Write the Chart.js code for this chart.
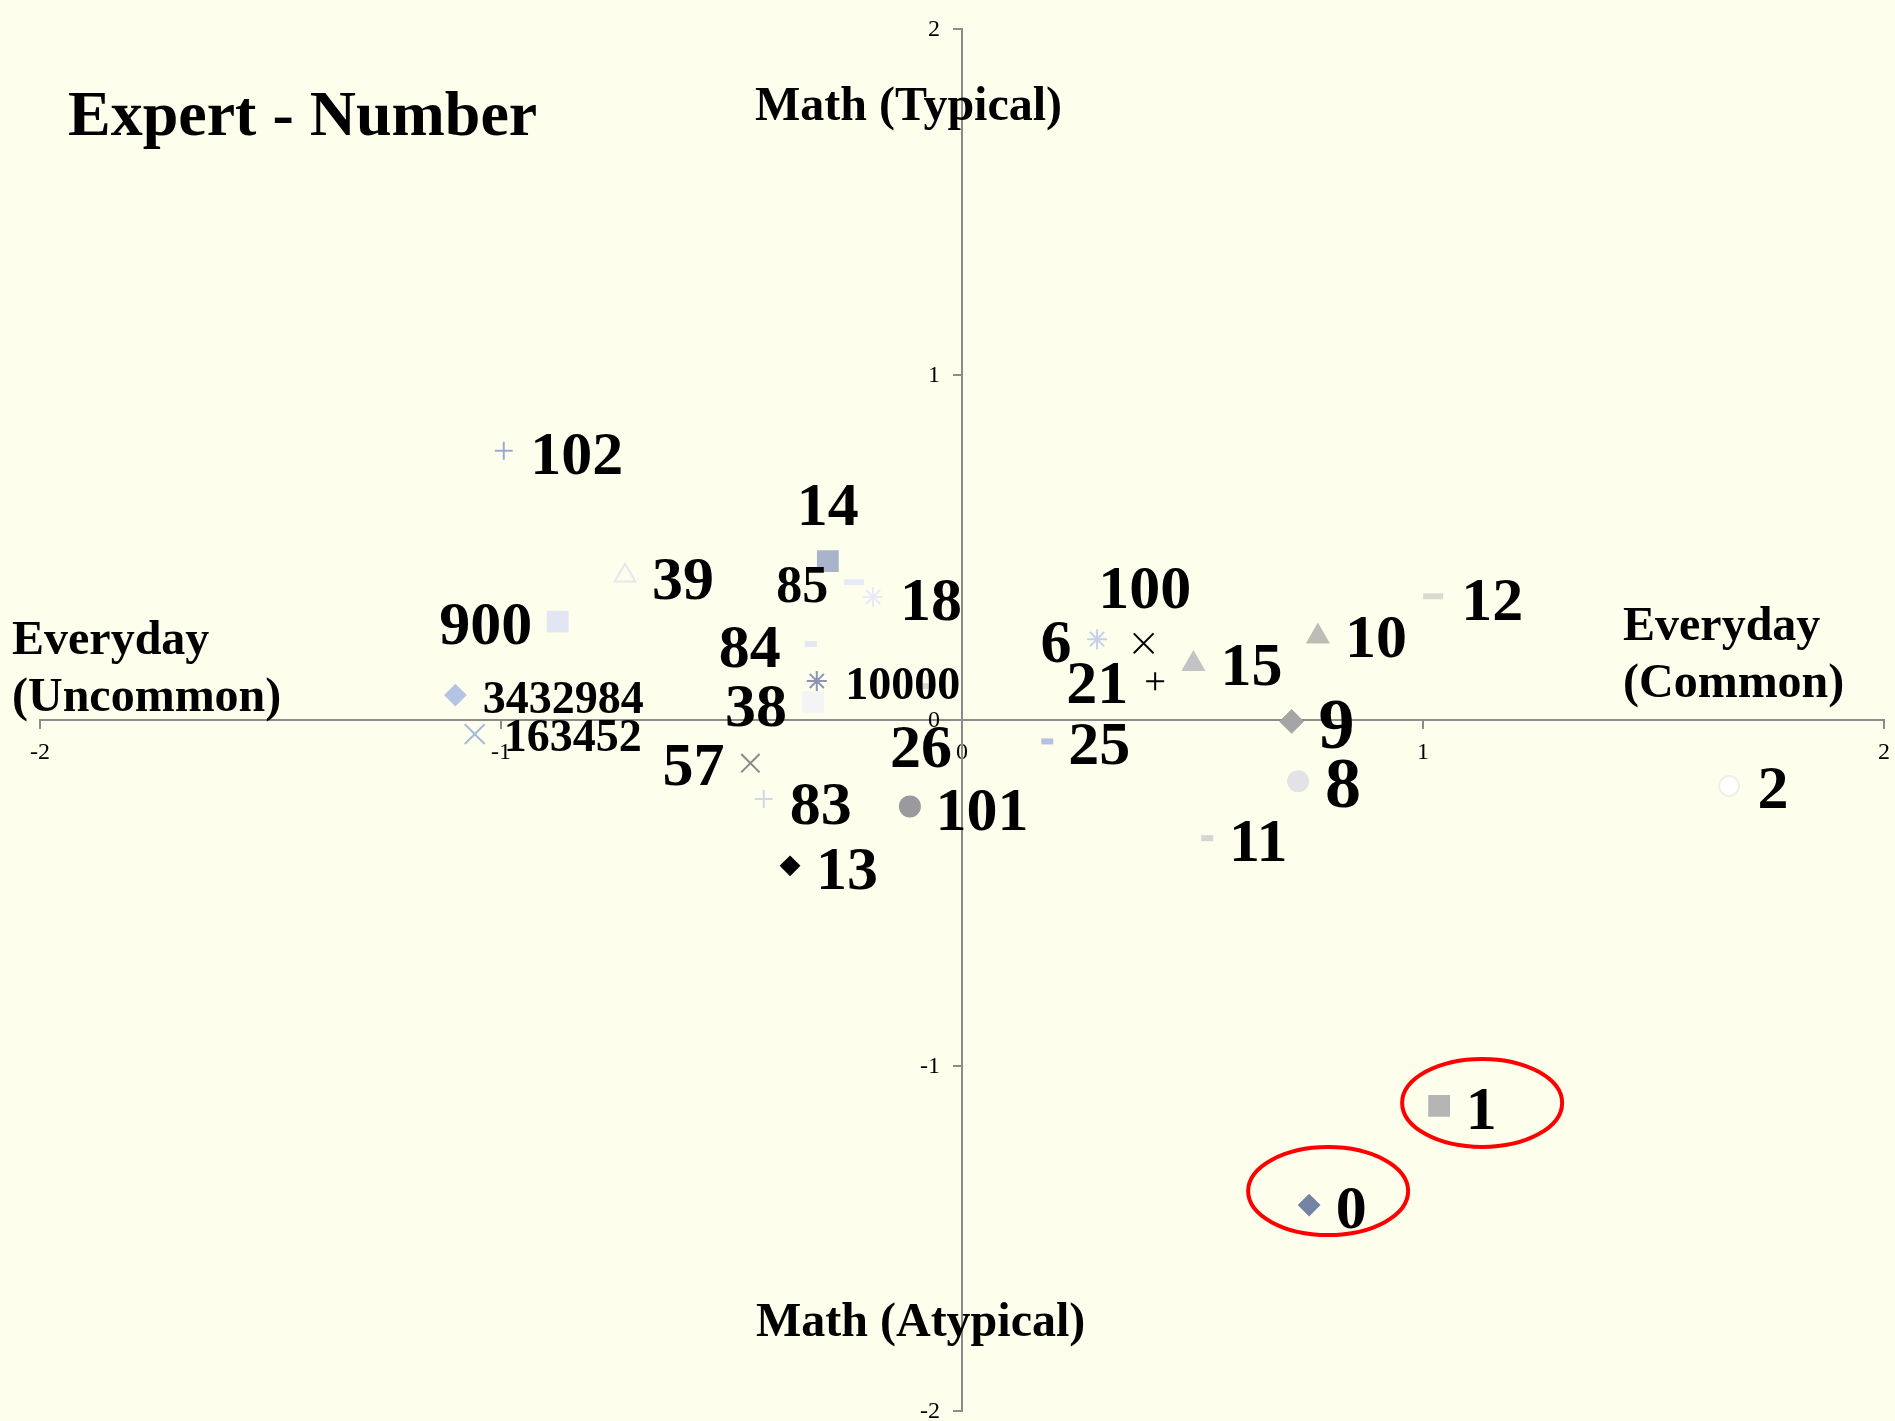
<!DOCTYPE html>
<html>
<head>
<meta charset="utf-8">
<title>Expert - Number</title>
<script src="https://cdn.jsdelivr.net/npm/chart.js@4.4.1/dist/chart.umd.min.js"></script>
<style>
  html, body { margin: 0; padding: 0; background: #fefeec; overflow: hidden; }
</style>
</head>
<body>
<canvas id="chart" width="1895" height="1421"></canvas>
<script>
// numbers as placed by the expert: x = everyday (uncommon -> common), y = math (atypical -> typical)
const names = ['0', '1', '2', '6', '8', '9', '10', '11', '12', '13', '14', '15', '18', '21', '25',
  '26', '38', '39', '57', '83', '84', '85', '100', '101', '102', '900', '10000', '163452', '3432984'];
const xVals = [0.753, 1.035, 1.664, 0.293, 0.729, 0.715, 0.772, 0.532, 1.022, -0.373, -0.291, 0.502, -0.193, 0.419, 0.185,
  -0.078, -0.323, -0.731, -0.459, -0.430, -0.328, -0.234, 0.394, -0.113, -0.994, -0.877, -0.315, -1.057, -1.099];
const yVals = [-1.404, -1.117, -0.191, 0.234, -0.177, -0.004, 0.242, -0.342, 0.358, -0.422, 0.460, 0.162, 0.356, 0.112, -0.062,
  0.098, 0.052, 0.418, -0.125, -0.229, 0.220, 0.399, 0.222, -0.250, 0.779, 0.285, 0.113, -0.041, 0.072];
const xTicks = [-2, -1, 0, 1, 2];
const yTicks = [-2, -1, 0, 1, 2];
const circled = ['0', '1'];

// marker look per number: [pointStyle, colour, radius, fill?]
const markers = {
  '0': ['rectRot', '#7584a5', 10, true],
  '1': ['rect', '#b5b5b5', 14, true],
  '2': ['circle', '#ffffff', 10, true],
  '6': ['star', '#c5d1ec', 10, false],
  '8': ['circle', '#e2e2e7', 10, true],
  '9': ['rectRot', '#a5a5a5', 11, true],
  '10': ['triangle', '#bdbdb5', 12, true],
  '11': ['line', '#d5d5d5', 6, false],
  '12': ['line', '#dadad2', 10, false],
  '13': ['rectRot', '#000000', 9, true],
  '14': ['rect', '#a9b4cc', 14, true],
  '15': ['triangle', '#c3c3c3', 12, true],
  '18': ['star', '#e8eaf5', 10, false],
  '21': ['cross', '#000000', 9, false],
  '25': ['line', '#b2c2e2', 6, false],
  '26': ['line', '#d8d8d2', 10, false],
  '38': ['rect', '#f4f4f7', 14, true],
  '39': ['triangle', '#e6e6ef', 12, false],
  '57': ['crossRot', '#8a8a8a', 13, false],
  '83': ['cross', '#d0d8ee', 9, false],
  '84': ['line', '#e4e8f4', 6, false],
  '85': ['line', '#e6eaf6', 10, false],
  '100': ['crossRot', '#000000', 14, false],
  '101': ['circle', '#9a9a9e', 10, true],
  '102': ['cross', '#9aaace', 9, false],
  '900': ['rect', '#e1e6f2', 14, true],
  '10000': ['star', '#8b95b3', 10, false],
  '163452': ['crossRot', '#a6badf', 14, false],
  '3432984': ['rectRot', '#b4c4e4', 10, true]
};

// where each number's label sits around its marker: [dx, dy, font size]
const labelSpots = {
  '0': [42, 2, 62], '1': [42, 2, 62], '2': [44, 1, 62], '6': [-41, 2, 62], '8': [45, 2, 72],
  '9': [45, 2, 72], '10': [58, 0, 62], '11': [51, 2, 62], '12': [59, 3, 62], '13': [57, 2, 62],
  '14': [0, -57, 62], '15': [58, 0, 62], '18': [58, 2, 62], '21': [-58, 1, 62], '25': [52, 2, 62],
  '26': [-5, 60, 62], '38': [-57, 3, 62], '39': [58, 2, 62], '57': [-57, 1, 62], '83': [57, 4, 62],
  '84': [-61, 2, 62], '85': [-52, 2, 52], '100': [1, -56, 62], '101': [72, 3, 62], '102': [73, 2, 62],
  '900': [-72, 2, 62], '10000': [86, 2, 46], '163452': [98, 1, 46], '3432984': [108, 2, 46]
};

const serif = '"Liberation Serif", "Times New Roman", serif';
const bg = '#fefeec';
const axisGray = '#8c8c8c';
const tickFont = 24;

const background = {
  id: 'background',
  beforeDraw(chart) {
    const { ctx, width, height } = chart;
    ctx.save();
    ctx.fillStyle = bg;
    ctx.fillRect(0, 0, width, height);
    ctx.restore();
  }
};

// y tick numbers sit to the left of the centred vertical axis
const yTickLabels = {
  id: 'yTickLabels',
  afterDraw(chart) {
    const { ctx, scales } = chart;
    const x0 = scales.x.getPixelForValue(0);
    ctx.save();
    ctx.fillStyle = '#000';
    ctx.font = tickFont + 'px ' + serif;
    ctx.textAlign = 'right';
    ctx.textBaseline = 'middle';
    yTicks.forEach(v => ctx.fillText(String(v), x0 - 22, scales.y.getPixelForValue(v) + 1));
    ctx.restore();
  }
};

const pointLabels = {
  id: 'pointLabels',
  afterDatasetsDraw(chart) {
    const ctx = chart.ctx;
    const meta = chart.getDatasetMeta(0);
    ctx.save();
    ctx.fillStyle = '#000';
    ctx.textAlign = 'center';
    ctx.textBaseline = 'alphabetic';
    meta.data.forEach((pt, i) => {
      const [dx, dy, size] = labelSpots[names[i]];
      ctx.font = 'bold ' + size + 'px ' + serif;
      ctx.fillText(names[i], pt.x + dx, pt.y + dy + size * 0.338);
    });
    // red rings round the two circled numbers
    ctx.strokeStyle = '#ff0000';
    ctx.lineWidth = 4;
    circled.forEach(n => {
      const pt = meta.data[names.indexOf(n)];
      const off = n === '1' ? [43, -3] : [19, -14];
      ctx.beginPath();
      ctx.ellipse(pt.x + off[0], pt.y + off[1], 80, 44, 0, 0, Math.PI * 2);
      ctx.stroke();
    });
    ctx.restore();
  }
};

const axisTitles = {
  id: 'axisTitles',
  afterDraw(chart) {
    const ctx = chart.ctx;
    ctx.save();
    ctx.fillStyle = '#000';
    ctx.textAlign = 'left';
    ctx.textBaseline = 'alphabetic';
    ctx.font = 'bold 64px ' + serif;
    ctx.fillText('Expert - Number', 68, 135);
    ctx.font = 'bold 48px ' + serif;
    ctx.fillText('Math (Typical)', 755, 120);
    ctx.fillText('Math (Atypical)', 756, 1336);
    ctx.fillText('Everyday', 12, 654);
    ctx.fillText('(Uncommon)', 12, 711);
    ctx.fillText('Everyday', 1623, 640);
    ctx.fillText('(Common)', 1623, 697);
    ctx.restore();
  }
};

const style = (k) => names.map(n => markers[n][k]);

const axisBase = {
  type: 'linear',
  min: -2,
  max: 2,
  grid: { drawOnChartArea: false, drawTicks: true, tickLength: 8, color: axisGray, lineWidth: 2 },
  border: { display: true, color: axisGray, width: 2 },
  ticks: { color: '#000', font: { family: serif, size: tickFont }, autoSkip: false, maxRotation: 0 }
};

new Chart(document.getElementById('chart'), {
  type: 'scatter',
  data: {
    datasets: [{
      label: 'Expert - Number',
      data: names.map((n, i) => ({ x: xVals[i], y: yVals[i] })),
      pointStyle: style(0),
      pointRadius: style(2),
      pointBackgroundColor: names.map(n => markers[n][3] ? markers[n][1] : 'rgba(0,0,0,0)'),
      pointBorderColor: names.map(n => n === '2' ? '#f0f0e4' : markers[n][1]),
      pointBorderWidth: names.map(n => markers[n][0] === 'line' ? 6 : 2),
      showLine: false
    }]
  },
  options: {
    responsive: false,
    animation: false,
    events: [],
    layout: { autoPadding: false, padding: { left: 40, right: 11, top: 29, bottom: 10 } },
    plugins: { legend: { display: false }, tooltip: { enabled: false } },
    scales: {
      x: {
        ...axisBase,
        position: { y: 0 },
        afterBuildTicks: s => { s.ticks = xTicks.map(v => ({ value: v })); },
        afterFit: s => { s.height = 0; s.paddingLeft = 0; s.paddingRight = 0; },
        ticks: { ...axisBase.ticks, padding: 10 }
      },
      y: {
        ...axisBase,
        position: { x: 0 },
        afterBuildTicks: s => { s.ticks = yTicks.map(v => ({ value: v })); },
        afterFit: s => { s.width = 0; s.paddingTop = 0; s.paddingBottom = 0; },
        ticks: { ...axisBase.ticks, display: false }
      }
    }
  },
  plugins: [background, pointLabels, axisTitles, yTickLabels]
});
</script>
</body>
</html>
